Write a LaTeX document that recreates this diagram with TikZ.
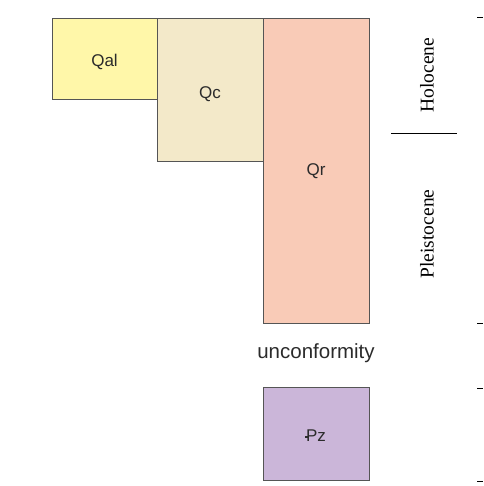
\documentclass[tikz,border=0pt]{standalone}
\usepackage{fontspec}
\setmainfont{Liberation Serif}
\setsansfont{Liberation Sans}
\definecolor{calc}{HTML}{FFF7A9}
\definecolor{colluv}{HTML}{F3E9C9}
\definecolor{resid}{HTML}{F9CBB7}
\definecolor{paleo}{HTML}{CBB6D9}
\definecolor{edge}{HTML}{555555}
\definecolor{txt}{HTML}{2B2B2B}
\newcommand{\pstroke}{\rlap{\kern-0.05em\rule[0.24em]{0.24em}{0.075em}}P}
\begin{document}
\begin{tikzpicture}[x=1pt,y=-1pt,
  unit/.style={draw=edge,line width=0.8pt},
  lab/.style={font=\sffamily\fontsize{17}{17}\selectfont,text=txt},
  epoch/.style={font=\rmfamily\fontsize{19.5}{19.5}\selectfont,text=black,rotate=90},
  tick/.style={draw=black,line width=0.8pt}]
\useasboundingbox (0,0) rectangle (483,486);
\draw[unit,fill=calc] (52,18) rectangle (157,99);
\draw[unit,fill=colluv] (157,18) rectangle (263,161);
\draw[unit,fill=resid] (263,18) rectangle (369,323);
\draw[unit,fill=paleo] (263,387) rectangle (369,480);
\node[lab] (qal) at (104.5,62) {Qal};
\node[lab] (qc) at (210,94) {Qc};
\node[lab] (qr) at (316,171) {Qr};
\node[lab] (pz) at (316,436) {\pstroke z};
\node[font=\sffamily\fontsize{20.5}{20.5}\selectfont,text=txt] (unc) at (316,353) {unconformity};
\node[epoch] (holo) at (427,75) {Holocene};
\node[epoch] (pleis) at (427,234) {Pleistocene};
\coordinate (l1) at (391,133);
\coordinate (l2) at (457,133);
\draw[tick] (l1) -- (l2);
\foreach \yy in {17,323,388,481} {
  \draw[tick] (477,\yy) -- (483,\yy);
}
\end{tikzpicture}
\end{document}
